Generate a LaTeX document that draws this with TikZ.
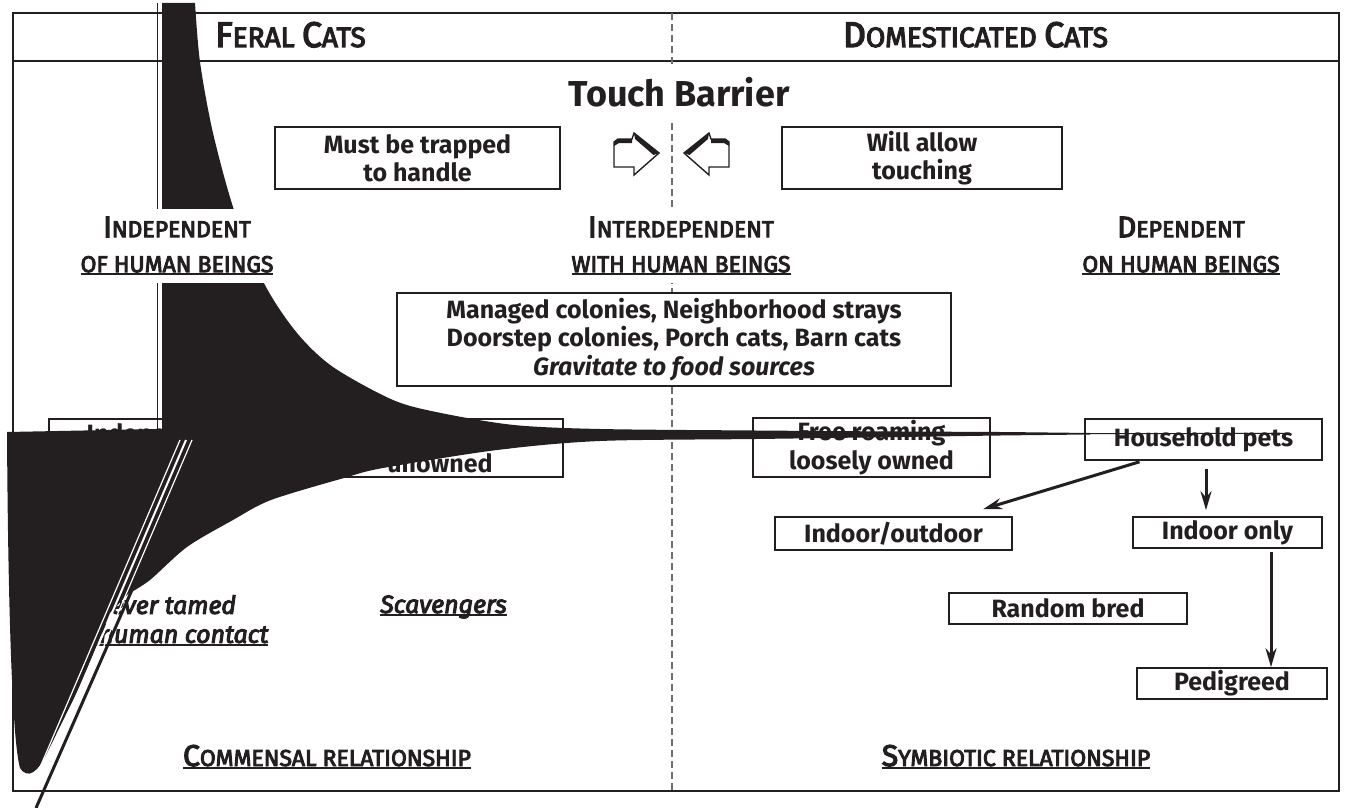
\documentclass[tikz,border=0pt]{standalone}
\usepackage{fontspec}
\setmainfont{Fira Sans}
\newfontfamily\labfont{Fira Sans}[FakeBold=4]
\usetikzlibrary{arrows.meta,calc}
\definecolor{ink}{HTML}{231F20}
\newcommand\myul[1]{\begingroup\setbox0=\hbox{#1}\dimen0=\wd0\rlap{\box0}\rule[-3pt]{\dimen0}{1.8pt}\endgroup}
\newcommand\HSC[2]{{\fontsize{35.5}{35.5}\selectfont #1}{\fontsize{28}{28}\selectfont #2}}
\newcommand\LSC[2]{{\fontsize{29.5}{29.5}\selectfont #1}{\fontsize{23}{23}\selectfont #2}}
\newcommand\CSC[2]{{\fontsize{30}{30}\selectfont #1}{\fontsize{23}{23}\selectfont #2}}
\begin{document}
\begin{tikzpicture}[x=1pt,y=-1pt,
  frame/.style={draw=ink,line width=2.2},
  midline/.style={draw=ink!65,line width=2,dash pattern=on 7pt off 4pt},
  box/.style={draw=ink,line width=1.6,fill=white,inner sep=0pt,align=center,
    text=ink,font=\bfseries\fontsize{25}{28}\selectfont},
  btext/.style={inner sep=0pt,align=center,text=ink,font=\bfseries\fontsize{25}{29.5}\selectfont},
  head/.style={inner sep=0pt,text=ink,font=\labfont\fontsize{28}{28}\selectfont,anchor=base},
  lab/.style={fill=white,inner xsep=4pt,inner ysep=8pt,align=center,text=ink,
    font=\labfont\fontsize{23}{35}\selectfont},
  rel/.style={inner sep=0pt,text=ink,font=\labfont\fontsize{23}{23}\selectfont,anchor=base},
  ital/.style={inner sep=0pt,align=center,text=ink,font=\labfont\itshape\fontsize{25}{29}\selectfont},
  flow/.style={draw=ink,line width=3,-{Stealth[length=19pt,width=11pt]}},
  pics/tarrow/.style={code={
    \draw[ink,line width=1.4,line join=miter,fill=white] (0,9) -- (4,6) -- (18,6) -- (20,0) -- (45,20) -- (20,42) -- (20,34) -- (0,34) -- cycle;
    \fill[ink] (0,9) -- (4,6) -- (18,6) -- (18,10) -- (5,10) -- (0,13) -- cycle;
    \fill[ink] (20,0) -- (45,20) -- (39.5,22) -- (21,6) -- cycle;
  }}]
\useasboundingbox (0,0) rectangle (1346,808);
% frame and divider
\draw[frame] (13,13) rectangle (1339,791);
\draw[frame] (13,61) -- (1339,61);
\draw[midline] (672,13) -- (672,791);
% headers
\node[head] (hfer) at (290.5,47) {\HSC{F}{ERAL} \HSC{C}{ATS}};
\node[head] (hdom) at (975.5,47) {\HSC{D}{OMESTICATED} \HSC{C}{ATS}};
% touch barrier
\node[box,minimum width=285,minimum height=62] (trap) at (417.5,158) {Must be trapped\\to handle};
\node[box,minimum width=280,minimum height=62] (allow) at (922,158) {Will allow\\touching};
\pic at (614,133) {tarrow};
\pic[xscale=-1] at (729,133) {tarrow};
% middle box
\node[box,minimum width=554,minimum height=93,font=\bfseries\fontsize{25}{28.5}\selectfont] (colonies) at (674,339.5)
  {Managed colonies, Neighborhood strays\\Doorstep colonies, Porch cats, Barn cats\\\textit{Gravitate to food sources}};
% feral side boxes
\node[box,minimum width=514,minimum height=58] (indep) at (306,448) {};
\node[btext] (indepA) at (160,448) {Independent\\wildlife};
\node[btext] (indepB) at (440,448) {Free roaming\\unowned};
\node[ital] (never) at (165,620.5) {Never tamed\\\myul{No human contact}};
\node[ital,anchor=base] (scav) at (443.5,613) {\myul{Scavengers}};
\node[rel] (comm) at (327,766) {\myul{\CSC{C}{OMMENSAL} RELATIONSHIP}};
% domestic side boxes
\node[box,minimum width=237,minimum height=59,font=\bfseries\fontsize{25}{29}\selectfont] (free) at (871.5,447.5) {Free roaming\\loosely owned};
\node[box,minimum width=237,minimum height=41] (house) at (1203.5,439.5) {Household pets};
\node[box,minimum width=237,minimum height=33] (inout) at (893.5,533.5) {Indoor/outdoor};
\node[box,minimum width=189,minimum height=31] (indoor) at (1227.5,532.5) {Indoor only};
\node[box,minimum width=238,minimum height=31] (random) at (1068,608.5) {Random bred};
\node[box,minimum width=190,minimum height=31] (pedig) at (1232,683.5) {Pedigreed};
\node[rel] (symb) at (1016,766) {\myul{\CSC{S}{YMBIOTIC} RELATIONSHIP}};
% arrows
\draw[flow] ($(house.south)+(-64,1)$) -- ($(inout.north)+(89.5,-7)$);
\draw[flow] ($(house.south)+(2.5,8)$) -- ($(house.south |- indoor.north)+(2.5,-6)$);
\coordinate (a3) at ($(indoor.south)+(43.5,3)$);
\draw[flow] (a3) -- (a3 |- pedig.north);
% black smear
\fill[ink] (162,3) -- plot[smooth,tension=0.5] coordinates {(195,3) (200,62) (213,133) (235,213) (265,285) (297,333) (333,367) (393,400) (441,413) (514,425) (600,429) (756,430.5) (900,431.5) (1000,432) (1090,433)}
  -- plot[smooth,tension=0.5] coordinates {(1090,434.5) (1000,435.5) (900,437) (756,439) (600,441) (497,450) (383,468) (344,478) (271,500) (233,520) (187,547) (150,580) (128,594)}
  -- (110,613) -- (83,680) -- (47,753) .. controls (38,772) and (28,780) .. (20,768) .. controls (12,740) and (8,600) .. (7,432) -- (160,429) -- (162,429) -- cycle;
\draw[ink,line width=1] (1085,433.6) -- (1290,433.4);
\draw[white,line width=1.2] (180,440) -- (41,765);
\draw[white,line width=2] (186,440) -- (47,765);
\draw[white,line width=1.2] (192,440) -- (53,765);
\draw[ink,line width=3] (198,440) -- (36,808);
\draw[ink,line width=1] (157.5,3) -- (157.5,429);
% labels over everything
\node[lab] (lind) at (177,246) {\LSC{I}{NDEPENDENT}\\\myul{OF HUMAN BEINGS}};
\node[lab] (linter) at (681,246) {\LSC{I}{NTERDEPENDENT}\\\myul{WITH HUMAN BEINGS}};
\node[lab] (ldep) at (1181,246) {\LSC{D}{EPENDENT}\\\myul{ON HUMAN BEINGS}};
\node[fill=white,inner xsep=4pt,inner ysep=12pt,text=ink,font=\bfseries\fontsize{36}{36}\selectfont,anchor=base] (touch) at (679,106) {Touch Barrier};
\end{tikzpicture}
\end{document}
